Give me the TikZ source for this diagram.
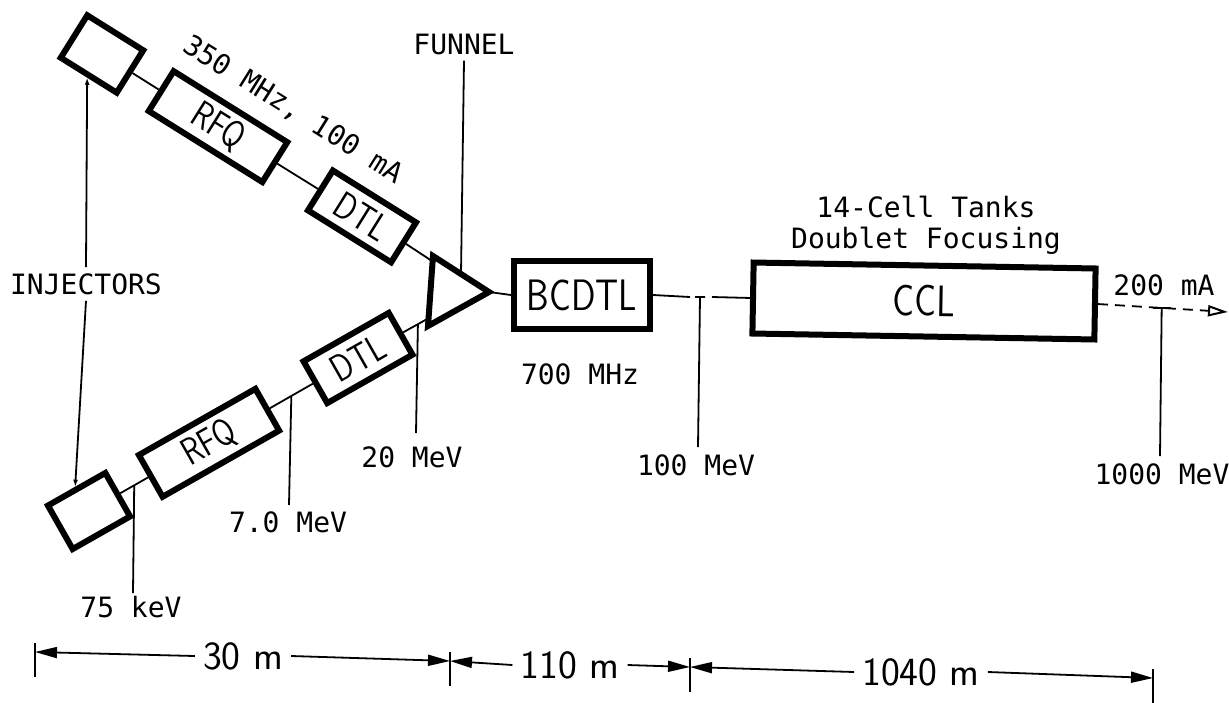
\documentclass[tikz,border=0pt]{standalone}
\usepackage{fontspec}
\newfontfamily\labfont{DejaVu Sans Mono}
\usetikzlibrary{arrows.meta,calc}
\newcommand{\nt}[1]{\scalebox{0.82}[1]{#1}}
\tikzset{
  accbox/.style={draw, line width=6pt, inner sep=0pt, line join=miter,
    font=\sffamily\fontsize{44}{48}\selectfont},
  tiltbox/.style={accbox, font=\sffamily\fontsize{38}{42}\selectfont},
  boxline/.style={line width=6pt, line join=miter},
  beamline/.style={line width=1.8pt},
  lbl/.style={font={\labfont\fontsize{28}{31}\selectfont}, inner sep=6pt},
  dimlab/.style={font=\sffamily\fontsize{40}{44}\selectfont, inner sep=8pt},
  dimarr/.style={line width=1.8pt, -{Triangle[length=22pt,width=11pt]}},
  injarr/.style={line width=1.8pt, -{Latex[length=7pt,width=5pt]}},
}
\begin{document}
\begin{tikzpicture}[x=1pt,y=-1pt]
\useasboundingbox (0,0) rectangle (1229,702);

% ---- upper chain
\node[tiltbox, minimum width=66pt, minimum height=50pt, rotate=-32] (injT) at (102,54) {};
\node[tiltbox, minimum width=134pt, minimum height=47pt, rotate=-32] (rfqT) at (218,126.6) {\nt{RFQ}};
\node[tiltbox, minimum width=98pt, minimum height=47pt, rotate=-32] (dtlT) at (362,216.4) {\nt{DTL}};

% ---- lower chain
\node[tiltbox, minimum width=66pt, minimum height=50pt, rotate=29.6] (injB) at (89,511) {};
\node[tiltbox, minimum width=134pt, minimum height=48pt, rotate=29.6] (rfqB) at (209,442.8) {\nt{RFQ}};
\node[tiltbox, minimum width=98pt, minimum height=48pt, rotate=29.6] (dtlB) at (358,358) {\nt{DTL}};

% ---- funnel
\coordinate (fA) at (433,256);
\coordinate (fB) at (428,326);
\coordinate (fC) at (489,292);
\draw[boxline] (fA) -- (fC) -- (fB) -- cycle;
\coordinate (fIn1) at (432,261);
\coordinate (fIn2) at (429,318);
\coordinate (fTop) at ($(fA)!0.5!(fC)$);

% ---- main line
\node[accbox, minimum width=136pt, minimum height=68pt] (bcdtl) at (582,295) {\nt{BCDTL}};
\node[accbox, minimum width=342pt, minimum height=71pt, rotate=-1] (ccl) at (924,301) {\nt{CCL}};

% ---- beam connections
\draw[beamline] (injT.east) -- (rfqT.west) (rfqT.east) -- (dtlT.west) (dtlT.east) -- (fIn1);
\draw[beamline] (injB.east) -- (rfqB.west) (rfqB.east) -- (dtlB.west) (dtlB.east) -- (fIn2);
\draw[beamline] (fC) -- (bcdtl.west);
\coordinate (t100) at (700,297);
\draw[beamline] (bcdtl.east) -- ([xshift=-10pt]t100)
  ([xshift=-5pt]t100) -- ([xshift=5pt]t100)
  ([xshift=12pt]t100) -- (ccl.west);
\coordinate (bend) at (1228,312);
\draw[beamline, dash pattern=on 10pt off 7pt,
  -{Triangle[open,length=20pt,width=11pt,line width=2pt]}] (ccl.east) -- (bend);
\coordinate (t1000) at ($(ccl.east)!0.49!(bend)$);
\draw[beamline] ([xshift=-9pt]t1000) -- ([xshift=9pt]t1000);

% ---- labels
\node[lbl] (lFun) at (464,44) {FUNNEL};
\draw[beamline] (lFun.south) -- (fTop);

\node[lbl] (lInj) at (86,284) {INJECTORS};
\draw[injarr] (lInj.north) -- (injT.south);
\draw[injarr] (lInj.south) -- (injB.north);

\node[lbl, rotate=-32] (lFreq) at (293,110) {350 MHz, 100 mA};
\node[lbl] (l700) at (580,374) {700 MHz};
\node[lbl, anchor=base] (lT1) at (926,217) {14-Cell Tanks};
\node[lbl, anchor=base] (lT2) at (926,248) {Doublet Focusing};
\node[lbl] (l200) at (1164,285) {200 mA};

% ---- energy ticks
\coordinate (t75) at ($(injB.east)!0.5!(rfqB.west)$);
\coordinate (e75) at (133,593);
\node[lbl] (l75) at (131,607) {75 keV};
\draw[beamline] (t75) -- (e75);

\coordinate (t7) at ($(rfqB.east)!0.5!(dtlB.west)$);
\coordinate (e7) at (289,505);
\node[lbl] (l7) at (288,522) {7.0 MeV};
\draw[beamline] (t7) -- (e7);

\coordinate (t20) at ($(dtlB.east)!0.57!(fIn2)$);
\coordinate (e20) at (416,433);
\node[lbl] (l20) at (412,457) {20 MeV};
\draw[beamline] (t20) -- (e20);

\coordinate (e100) at (698,447);
\node[lbl] (l100) at (696,465) {100 MeV};
\draw[beamline] (t100) -- (e100);

\coordinate (e1000) at (1160,456);
\node[lbl] (l1000) at (1162,474) {1000 MeV};
\draw[beamline] (t1000) -- (e1000);

% ---- dimension line
\coordinate (b0) at (35,652);
\coordinate (b1) at (450,661);
\coordinate (b2) at (690,667);
\coordinate (b3) at (1153,678);
\foreach \b in {b0,b1,b2,b3}
  \draw[beamline] ([yshift=9pt]\b) -- ([yshift=-25pt]\b);
\node[dimlab] (d30) at (243,656) {30 m};
\node[dimlab] (d110) at (570,665) {110 m};
\node[dimlab] (d1040) at (921,672) {1040 m};
\draw[dimarr] (d30.west) -- (b0);
\draw[dimarr] (d30.east) -- (b1);
\draw[dimarr] (d110.west) -- (b1);
\draw[dimarr] (d110.east) -- (b2);
\draw[dimarr] (d1040.west) -- (b2);
\draw[dimarr] (d1040.east) -- (b3);
\end{tikzpicture}
\end{document}
